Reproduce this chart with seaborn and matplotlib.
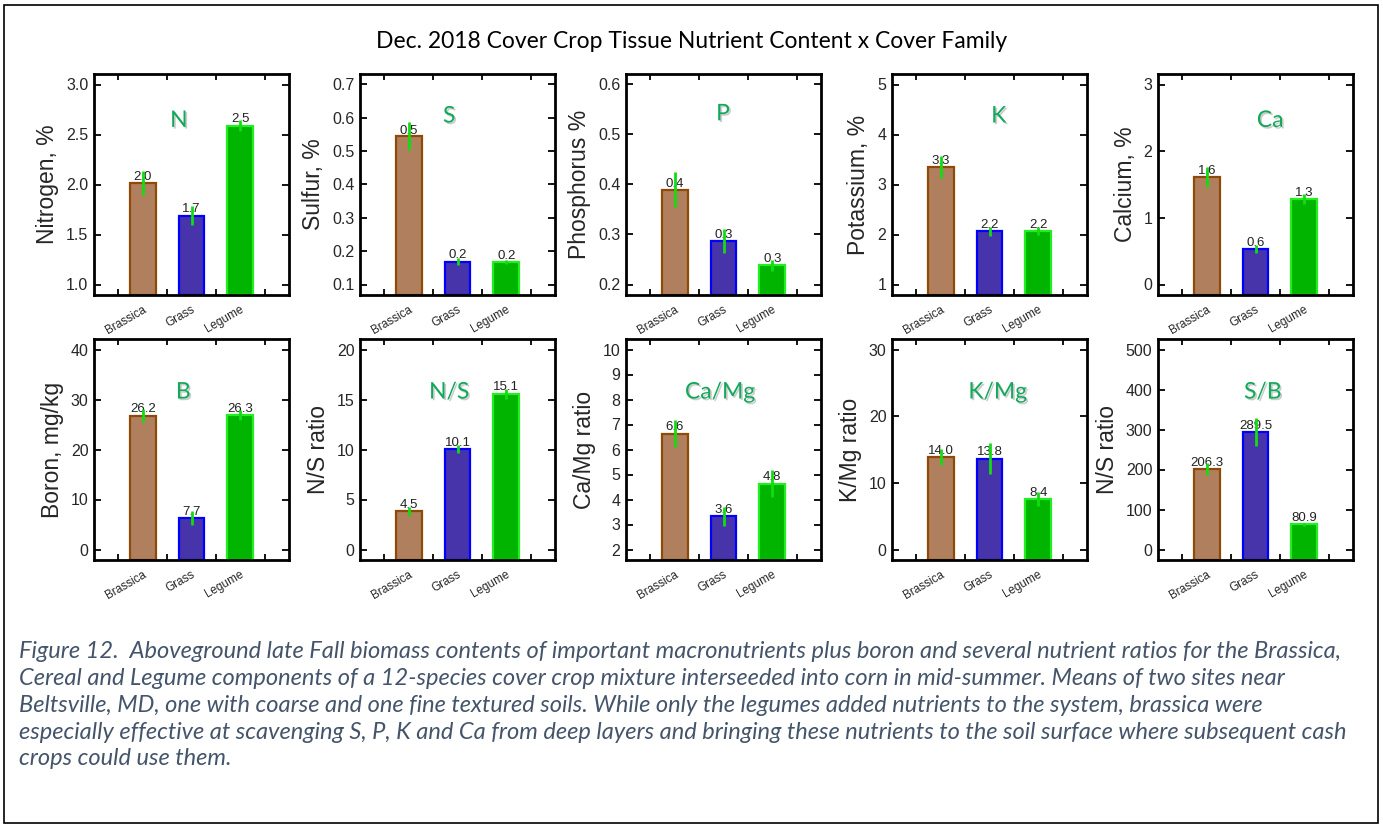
import matplotlib
matplotlib.use("Agg")
import matplotlib.pyplot as plt
import matplotlib.patheffects as pe
from matplotlib.patches import Rectangle
from matplotlib.ticker import FixedLocator
import numpy as np
import pandas as pd
import seaborn as sns

# ---- data -------------------------------------------------------------
families = ["Brassica", "Grass", "Legume"]

panel_tags = ["N", "S", "P", "K", "Ca", "B", "N/S", "Ca/Mg", "K/Mg", "S/B"]
y_labels = ["Nitrogen, %", "Sulfur, %", "Phosphorus %", "Potassium, %", "Calcium, %",
            "Boron, mg/kg", "N/S ratio", "Ca/Mg ratio", "K/Mg ratio", "N/S ratio"]

nitrogen = [2.02, 1.69, 2.59]
sulfur = [0.544, 0.169, 0.168]
phosphorus = [0.389, 0.287, 0.239]
potassium = [3.35, 2.07, 2.07]
calcium = [1.62, 0.53, 1.29]
boron = [26.8, 6.3, 27.0]
n_s_ratio = [3.83, 10.07, 15.6]
ca_mg_ratio = [6.64, 3.33, 4.64]
k_mg_ratio = [13.9, 13.65, 7.6]
s_b_ratio = [200.6, 294.0, 62.7]

nitrogen_err = [0.12, 0.095, 0.055]
sulfur_err = [0.042, 0.010, 0.007]
phosphorus_err = [0.035, 0.024, 0.011]
potassium_err = [0.22, 0.09, 0.08]
calcium_err = [0.15, 0.06, 0.075]
boron_err = [1.3, 1.35, 1.0]
n_s_err = [0.47, 0.37, 0.5]
ca_mg_err = [0.55, 0.39, 0.53]
k_mg_err = [1.2, 2.3, 1.1]
s_b_err = [15.0, 34.0, 4.3]

# printed value labels above the bars
nitrogen_lbl = ["2.0", "1.7", "2.5"]
sulfur_lbl = ["0.5", "0.2", "0.2"]
phosphorus_lbl = ["0.4", "0.3", "0.3"]
potassium_lbl = ["3.3", "2.2", "2.2"]
calcium_lbl = ["1.6", "0.6", "1.3"]
boron_lbl = ["26.2", "7.7", "26.3"]
n_s_lbl = ["4.5", "10.1", "15.1"]
ca_mg_lbl = ["6.6", "3.6", "4.8"]
k_mg_lbl = ["14.0", "13.8", "8.4"]
s_b_lbl = ["206.3", "289.5", "80.9"]

y_ticks = [
    [1.0, 1.5, 2.0, 2.5, 3.0],
    [0.1, 0.2, 0.3, 0.4, 0.5, 0.6, 0.7],
    [0.2, 0.3, 0.4, 0.5, 0.6],
    [1, 2, 3, 4, 5],
    [0, 1, 2, 3],
    [0, 10, 20, 30, 40],
    [0, 5, 10, 15, 20],
    [2, 3, 4, 5, 6, 7, 8, 9, 10],
    [0, 10, 20, 30],
    [0, 100, 200, 300, 400, 500],
]
y_tick_fmt = ["{:.1f}", "{:.1f}", "{:.1f}", "{:g}", "{:g}",
              "{:g}", "{:g}", "{:g}", "{:g}", "{:g}"]

values = [nitrogen, sulfur, phosphorus, potassium, calcium,
          boron, n_s_ratio, ca_mg_ratio, k_mg_ratio, s_b_ratio]
errors = [nitrogen_err, sulfur_err, phosphorus_err, potassium_err, calcium_err,
          boron_err, n_s_err, ca_mg_err, k_mg_err, s_b_err]
labels = [nitrogen_lbl, sulfur_lbl, phosphorus_lbl, potassium_lbl, calcium_lbl,
          boron_lbl, n_s_lbl, ca_mg_lbl, k_mg_lbl, s_b_lbl]

# horizontal placement of the nutrient tag inside each panel (data x) and height (axes fraction)
tag_x = [0.74, 0.83, 0.99, 1.19, 1.30, 0.83, 0.83, 0.93, 1.17, 1.15]
tag_y = [0.79, 0.81, 0.82, 0.81, 0.79, 0.76, 0.76, 0.76, 0.76, 0.76]

title = "Dec. 2018 Cover Crop Tissue Nutrient Content x Cover Family"
caption_lines = [
    "Figure 12.  Aboveground late Fall biomass contents of important macronutrients plus boron and several nutrient ratios for the Brassica,",
    "Cereal and Legume components of a 12-species cover crop mixture interseeded into corn in mid-summer. Means of two sites near",
    "Beltsville, MD, one with coarse and one fine textured soils. While only the legumes added nutrients to the system, brassica were",
    "especially effective at scavenging S, P, K and Ca from deep layers and bringing these nutrients to the soil surface where subsequent cash",
    "crops could use them.",
]

# ---- styling ------------------------------------------------------------
fill_colors = ["#B07F5E", "#4733AA", "#00B400"]
edge_colors = ["#8F4A08", "#0000FF", "#22EE22"]
err_color = "#11DD11"
tag_color = "#12A95A"
caption_color = "#44546A"

sns.set_theme(style="white")
plt.rcParams["font.family"] = ["Liberation Sans", "DejaVu Sans"]

fig = plt.figure(figsize=(13.83, 8.27), dpi=100)
W, H = 1383, 827

col_left = [94, 360, 626, 892, 1158]
row_top = [74, 339]
ax_w, ax_h = 195, 221

for i in range(10):
    r, c = divmod(i, 5)
    left = col_left[c] / W
    bottom = 1 - (row_top[r] + ax_h) / H
    ax = fig.add_axes([left, bottom, ax_w / W, ax_h / H])

    df = pd.DataFrame({"family": families, "value": values[i]})
    sns.barplot(data=df, x="family", y="value", hue="family", palette=fill_colors,
                dodge=False, legend=False, width=0.53, ax=ax, errorbar=None,
                saturation=1.0, zorder=2)

    ticks = y_ticks[i]
    span = ticks[-1] - ticks[0]
    y_lo = ticks[0] - 0.0525 * span
    ax.set_ylim(y_lo, ticks[-1] + 0.0525 * span)
    ax.set_xlim(-1, 3)

    # bars rise from the floor of the plotting area
    for patch, ec, val in zip(ax.patches, edge_colors, values[i]):
        patch.set_edgecolor(ec)
        patch.set_linewidth(1.6)
        patch.set_y(y_lo)
        patch.set_height(val - y_lo)

    x = np.arange(len(families))
    v = np.array(values[i])
    e = np.array(errors[i])

    for xi, vi, lab in zip(x, v, labels[i]):
        ax.text(xi, vi, lab, ha="center", va="bottom", fontsize=9.5,
                family=["Liberation Sans Narrow", "Liberation Sans"],
                color="#222222", zorder=3)
    ax.vlines(x, v - e, v + e, color=err_color, linewidth=2.0, zorder=4)

    ax.text(tag_x[i], tag_y[i], panel_tags[i],
            transform=ax.get_xaxis_transform(), ha="center", va="center",
            fontsize=16.5, color=tag_color, family=["Lato", "DejaVu Sans"],
            zorder=3,
            path_effects=[pe.SimplePatchShadow(offset=(1.2, -1.2), shadow_rgbFace="#999999", alpha=0.5),
                          pe.Normal()])

    ax.set_yticks(ticks)
    ax.set_yticklabels([y_tick_fmt[i].format(t) for t in ticks], fontsize=11.5)
    ax.set_xticks(x)
    ax.set_xticklabels(families, rotation=30, ha="right", rotation_mode="anchor",
                       fontsize=8.5)
    ax.xaxis.set_minor_locator(FixedLocator([-0.5, 0.5, 1.5, 2.5]))
    ax.tick_params(axis="x", which="major", length=0, pad=6)
    ax.tick_params(axis="x", which="minor", direction="in", length=4, width=1.3,
                   top=True, bottom=True, color="black")
    ax.tick_params(axis="y", which="major", direction="in", length=5, width=1.3,
                   left=True, right=True, color="black", pad=4)
    ax.set_xlabel("")
    ax.set_ylabel(y_labels[i], fontsize=16.5, labelpad=5)
    for sp in ax.spines.values():
        sp.set_visible(True)
        sp.set_color("black")
        sp.set_linewidth(2.0)

fig.text(692 / W, 1 - 42 / H, title, ha="center", va="center", fontsize=16.5,
         family=["Lato", "DejaVu Sans"], color="black")

for k, line in enumerate(caption_lines):
    fig.text(19 / W, 1 - (652 + 26.7 * k) / H, line, ha="left", va="center",
             fontsize=17, style="italic", family=["Lato", "DejaVu Sans"],
             color=caption_color)

fig.patches.append(Rectangle((4 / W, 4 / H), (W - 9) / W, (H - 9) / H,
                             transform=fig.transFigure, fill=False,
                             edgecolor="black", linewidth=1.2))

fig.savefig("out.png", dpi=100, facecolor="white")
